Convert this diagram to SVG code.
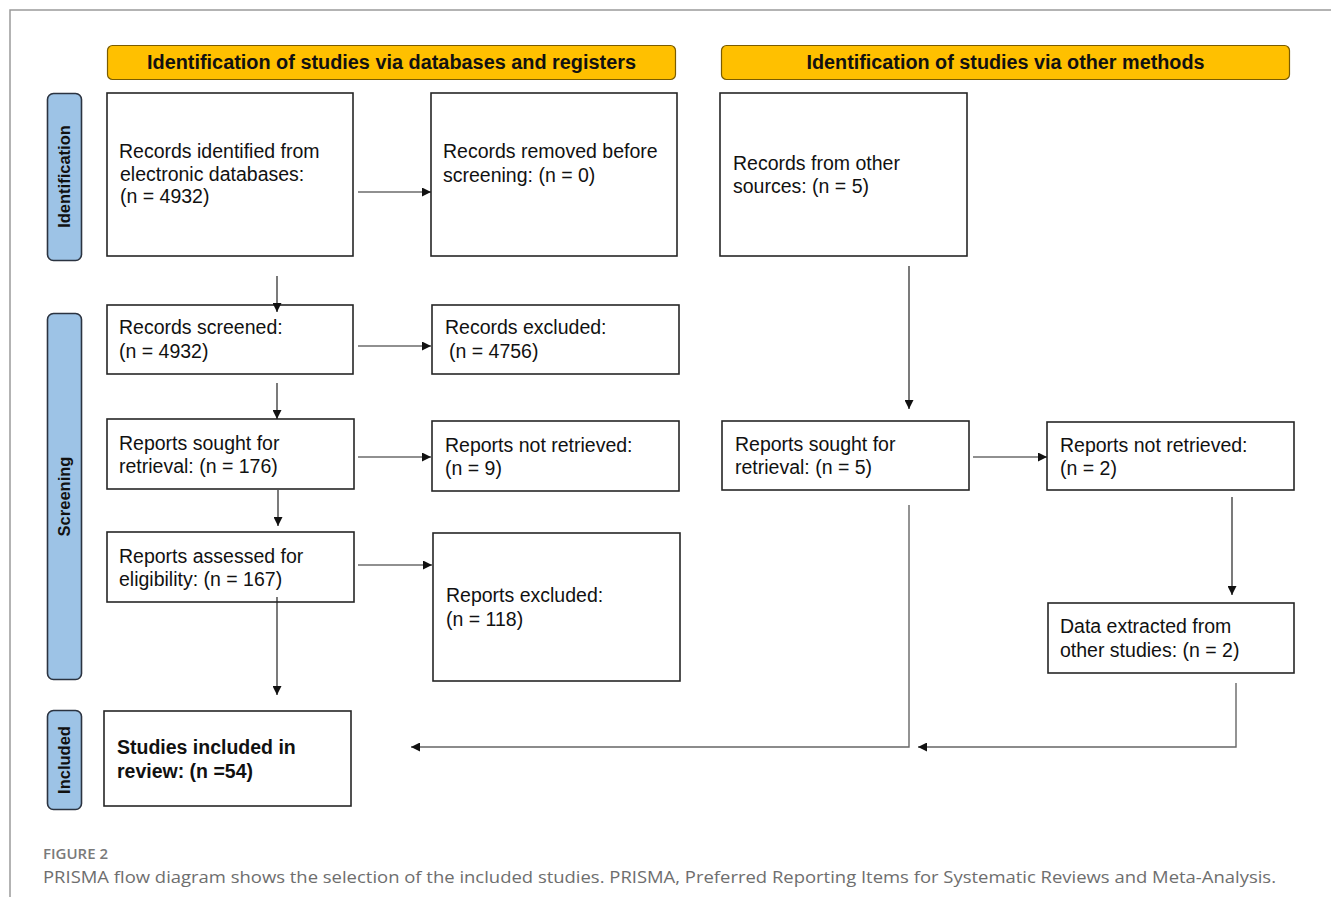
<svg xmlns="http://www.w3.org/2000/svg" width="1331" height="905" viewBox="0 0 1331 905">
<defs>
<marker id="ah" viewBox="0 0 10 10" refX="10" refY="5" markerWidth="9" markerHeight="9" markerUnits="userSpaceOnUse" orient="auto">
<path d="M0,0 L10,5 L0,10 z" fill="#111"/>
</marker>
<style>
.box{fill:#fff;stroke:#262626;stroke-width:1.6}
.hdr{fill:#FFC000;stroke:#7a5c00;stroke-width:1.2}
.side{fill:#9DC3E6;stroke:#2b3340;stroke-width:1.6}
.t{font-family:"Liberation Sans",Arial,sans-serif;font-size:19.5px;fill:#111}
.tb{font-family:"Liberation Sans",Arial,sans-serif;font-size:19.5px;font-weight:bold;fill:#111}
.ht{font-family:"Liberation Sans",Arial,sans-serif;font-size:20px;font-weight:bold;fill:#111}
.st{font-family:"Liberation Sans",Arial,sans-serif;font-size:16.5px;font-weight:bold;fill:#111}
.c{fill:none;stroke:#222;stroke-width:1.2}
.cg{fill:none;stroke:#666;stroke-width:1.4}
.cap1{font-family:"Open Sans","Liberation Sans",sans-serif;font-size:14.5px;font-weight:600;fill:#7a7a7a}
.cap2{font-family:"Open Sans","Liberation Sans",sans-serif;font-size:17px;fill:#6e6e6e}
</style>
</defs>
<rect width="1331" height="905" fill="#fff"/>
<path d="M10,897 L10,10 L1331,10" fill="none" stroke="#9a9a9a" stroke-width="1.5"/>

<g id="header-databases">
<rect class="hdr" x="107.5" y="45.5" width="568" height="34" rx="5"/>
<text class="ht" x="391.5" y="69" text-anchor="middle" textLength="489" lengthAdjust="spacingAndGlyphs">Identification of studies via databases and registers</text>
</g>
<g id="header-other">
<rect class="hdr" x="721.5" y="45.5" width="568" height="34" rx="5"/>
<text class="ht" x="1005.5" y="69" text-anchor="middle" textLength="398" lengthAdjust="spacingAndGlyphs">Identification of studies via other methods</text>
</g>

<g id="side-identification">
<rect class="side" x="47.5" y="93.5" width="34" height="167" rx="6"/>
<text class="st" transform="translate(70,176.5) rotate(-90)" text-anchor="middle">Identification</text>
</g>
<g id="side-screening">
<rect class="side" x="47.5" y="313.5" width="34" height="366" rx="6"/>
<text class="st" transform="translate(70,496.5) rotate(-90)" text-anchor="middle">Screening</text>
</g>
<g id="side-included">
<rect class="side" x="47.5" y="710.5" width="34" height="99" rx="6"/>
<text class="st" transform="translate(70,760) rotate(-90)" text-anchor="middle">Included</text>
</g>

<g id="records-identified">
<rect class="box" x="107" y="93" width="246" height="163"/>
<text class="t" x="119" y="158">Records identified from</text>
<text class="t" x="120" y="181">electronic databases:</text>
<text class="t" x="120" y="203">(n = 4932)</text>
</g>
<g id="records-removed">
<rect class="box" x="431" y="93" width="246" height="163"/>
<text class="t" x="443" y="158">Records removed before</text>
<text class="t" x="443" y="182">screening: (n = 0)</text>
</g>
<g id="records-other">
<rect class="box" x="720" y="93" width="247" height="163"/>
<text class="t" x="733" y="170">Records from other</text>
<text class="t" x="733" y="193">sources: (n = 5)</text>
</g>
<g id="records-screened">
<rect class="box" x="107" y="305" width="246" height="69"/>
<text class="t" x="119" y="334">Records screened:</text>
<text class="t" x="119" y="358">(n = 4932)</text>
</g>
<g id="records-excluded">
<rect class="box" x="432" y="305" width="247" height="69"/>
<text class="t" x="445" y="334">Records excluded:</text>
<text class="t" x="449" y="358">(n = 4756)</text>
</g>
<g id="reports-sought">
<rect class="box" x="107" y="419" width="247" height="70"/>
<text class="t" x="119" y="450">Reports sought for</text>
<text class="t" x="119" y="473">retrieval: (n = 176)</text>
</g>
<g id="reports-not-retrieved">
<rect class="box" x="432" y="421" width="247" height="70"/>
<text class="t" x="445" y="452">Reports not retrieved:</text>
<text class="t" x="445" y="475">(n = 9)</text>
</g>
<g id="reports-assessed">
<rect class="box" x="107" y="532" width="247" height="70"/>
<text class="t" x="119" y="563">Reports assessed for</text>
<text class="t" x="119" y="586">eligibility: (n = 167)</text>
</g>
<g id="reports-excluded">
<rect class="box" x="433" y="533" width="247" height="148"/>
<text class="t" x="446" y="602">Reports excluded:</text>
<text class="t" x="446" y="626">(n = 118)</text>
</g>
<g id="reports-sought-other">
<rect class="box" x="722" y="421" width="247" height="69"/>
<text class="t" x="735" y="451">Reports sought for</text>
<text class="t" x="735" y="474">retrieval: (n = 5)</text>
</g>
<g id="reports-not-retrieved-other">
<rect class="box" x="1047" y="422" width="247" height="68"/>
<text class="t" x="1060" y="452">Reports not retrieved:</text>
<text class="t" x="1060" y="475">(n = 2)</text>
</g>
<g id="data-extracted">
<rect class="box" x="1048" y="603" width="246" height="70"/>
<text class="t" x="1060" y="633">Data extracted from</text>
<text class="t" x="1060" y="657">other studies: (n = 2)</text>
</g>
<g id="studies-included">
<rect class="box" x="104" y="711" width="247" height="95"/>
<text class="tb" x="117" y="754">Studies included in</text>
<text class="tb" x="117" y="778">review: (n =54)</text>
</g>

<g id="connectors">
<line class="c" x1="358" y1="192" x2="431" y2="192" marker-end="url(#ah)"/>
<line class="c" x1="277" y1="276" x2="277" y2="312" marker-end="url(#ah)"/>
<line class="c" x1="358" y1="346" x2="431" y2="346" marker-end="url(#ah)"/>
<line class="c" x1="277" y1="383" x2="277" y2="419" marker-end="url(#ah)"/>
<line class="c" x1="358" y1="457" x2="431" y2="457" marker-end="url(#ah)"/>
<line class="c" x1="278" y1="490" x2="278" y2="526" marker-end="url(#ah)"/>
<line class="c" x1="358" y1="565" x2="432" y2="565" marker-end="url(#ah)"/>
<line class="c" x1="277" y1="597" x2="277" y2="695" marker-end="url(#ah)"/>
<line class="c" x1="909" y1="266" x2="909" y2="409" marker-end="url(#ah)"/>
<line class="c" x1="973" y1="457" x2="1047" y2="457" marker-end="url(#ah)"/>
<line class="c" x1="1232" y1="497" x2="1232" y2="595" marker-end="url(#ah)"/>
<polyline class="cg" points="909,505 909,747 411,747" marker-end="url(#ah)"/>
<polyline class="cg" points="1236,683 1236,747 918,747" marker-end="url(#ah)"/>
</g>

<text class="cap1" x="43" y="859" textLength="65" lengthAdjust="spacingAndGlyphs">FIGURE 2</text>
<text class="cap2" x="43" y="883" textLength="1233" lengthAdjust="spacingAndGlyphs">PRISMA flow diagram shows the selection of the included studies. PRISMA, Preferred Reporting Items for Systematic Reviews and Meta-Analysis.</text>
</svg>
